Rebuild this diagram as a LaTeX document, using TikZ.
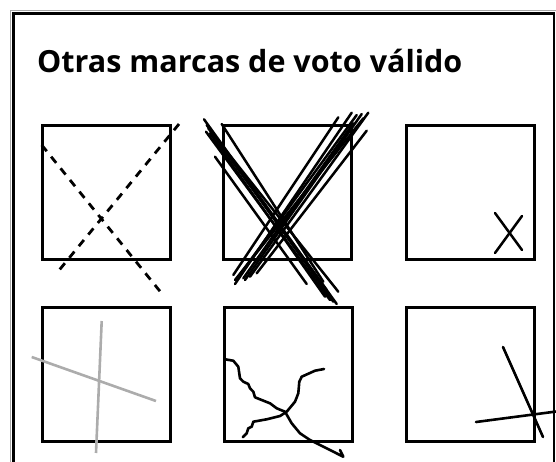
\documentclass[tikz,border=0pt]{standalone}
\usepackage{fontspec}
\newfontfamily\titlefont{Open Sans}
\usetikzlibrary{positioning}

\begin{document}
\begin{tikzpicture}[
  x=1pt, y=-1pt,
  ballot/.style={draw, line width=3pt, minimum width=128pt, minimum height=134pt,
                 inner sep=0pt, anchor=north west},
  stroke/.style={line width=2.5pt, line cap=round},
  dashmark/.style={line width=2.8pt, dash pattern=on 8pt off 7pt},
  faint/.style={line width=2.6pt, color=gray!65},
  scrawl/.style={line width=2.6pt, line cap=round, line join=round}
]
\useasboundingbox (0,0) rectangle (556,461);
\clip (0,0) rectangle (556,461);
% frame
\draw[gray!70, line width=1pt] (10,10) rectangle (600,500);
\draw[line width=2.8pt] (13.5,13.5) rectangle (554,490);
\node[anchor=base west, inner sep=0pt, font=\titlefont\bfseries\fontsize{30.5}{36}\selectfont]
  (title) at (37,72) {Otras marcas de voto válido};

% ballot squares
\node[ballot] (b1) at (41,124) {};
\node[ballot] (b2) at (222,124) {};
\node[ballot] (b3) at (405,124) {};
\node[ballot] (b4) at (41,306) {};
\node[ballot] (b5) at (223,306) {};
\node[ballot] (b6) at (405,306) {};

% dashed cross
\draw[dashmark] (41.7,145) -- (163,295);
\draw[dashmark] (179,124) -- (56,274);

% heavy cross
\foreach \xa/\ya/\xb/\yb in {204/119.3/336.7/304, 206/131.7/330/300, 208.3/128.3/338.3/291.7,
    215/156.7/306.7/284, 221.7/124/323.3/281.7, 210/133.3/325/296.7,
    206.7/125/333.3/301.7, 219.3/143.3/326.7/290}
  \draw[stroke] (\xa,\ya) -- (\xb,\yb);
\foreach \xa/\ya/\xb/\yb in {338.3/117.3/233.3/275, 351.7/112.7/235/284, 356.7/115/238.3/276.7,
    361.7/114/245/280, 368.3/112.7/250/276.7, 366.7/130.7/256.7/273.3,
    353.3/123.3/243.3/278.3, 363.3/118.3/235/280}
  \draw[stroke] (\xa,\ya) -- (\xb,\yb);

% small cross in corner
\draw[stroke] (495,213) -- (522,250);
\draw[stroke] (522,216) -- (495,253);

% grey cross
\draw[faint] (31.7,357) -- (156,401);
\draw[faint] (101.7,321) -- (96,453);

% wavy cross
\draw[scrawl] (225,359.3) -- (233.3,360.7) -- (238.3,366.7) -- (240,378.3) -- (243.3,381.7)
  -- (248.3,384) -- (250,388.3) -- (253.3,391.7) -- (255,397.3) -- (261.7,400)
  -- (270,403.3) -- (276.7,408.3) -- (285,411.7) -- (291.7,423.3) -- (300,433.3)
  -- (310,440) -- (343.3,456.7) -- (340,450);
\draw[scrawl] (324,369) -- (315,370.7) -- (301.7,376.7) -- (299.3,381.7) -- (298.3,393.3)
  -- (295,401.7) -- (286.7,411.7) -- (280,416) -- (266.7,419.3) -- (253.3,421.7)
  -- (251.7,426.7) -- (248.3,428.3) -- (246.7,433.3) -- (242.7,437.3);

% cross over the edge
\draw[stroke, line width=2.6pt] (503,347) -- (543,437);
\draw[stroke, line width=2.6pt] (476,422) -- (560,411);
\end{tikzpicture}
\end{document}
